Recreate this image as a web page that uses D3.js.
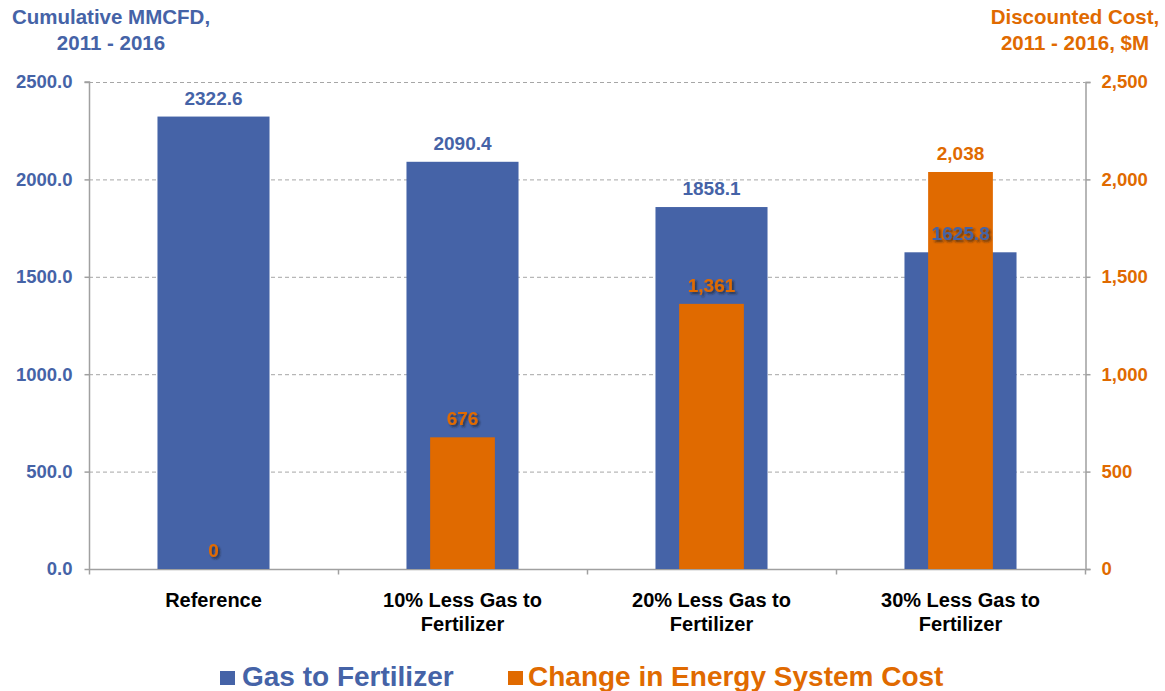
<!DOCTYPE html>
<html><head><meta charset="utf-8">
<script src="https://cdn.jsdelivr.net/npm/d3@7"></script>
<style>
html,body{margin:0;padding:0;background:#fff;}
svg{display:block;font-family:"Liberation Sans",Arial,sans-serif;font-weight:bold;}
</style></head>
<body>
<svg id="c" width="1165" height="691"></svg>
<script>
const categories = [["Reference"],["10% Less Gas to","Fertilizer"],["20% Less Gas to","Fertilizer"],["30% Less Gas to","Fertilizer"]];
const gasValues = [2322.6, 2090.4, 1858.1, 1625.8];
const costValues = [0, 676, 1361, 2038];
const leftTicks = [0, 500, 1000, 1500, 2000, 2500];
const rightTicks = [0, 500, 1000, 1500, 2000, 2500];
const seriesNames = ["Gas to Fertilizer", "Change in Energy System Cost"];
const leftTitle = ["Cumulative MMCFD,", "2011 - 2016"];
const rightTitle = ["Discounted Cost,", "2011 - 2016, $M"];

const BLUE = "#4563A7", ORANGE = "#E06A00", GRID = "#A6A6A6", AXIS = "#A0A0A0";
const svg = d3.select("#c");
const L = 89, R = 1085, T = 82, B = 569;

const defs = svg.append("defs");
const f = defs.append("filter").attr("id","sh").attr("x","-20%").attr("y","-30%").attr("width","150%").attr("height","180%");
f.append("feDropShadow").attr("dx",2).attr("dy",2).attr("stdDeviation",1.2).attr("flood-color","#1a1a1a").attr("flood-opacity",0.65);

const x = d3.scaleBand().domain(d3.range(categories.length)).range([L, R]).paddingInner(0).paddingOuter(0);
const yL = d3.scaleLinear().domain([0, 2500]).range([B, T]);
const yR = d3.scaleLinear().domain([0, 2500]).range([B, T]);

// gridlines
svg.append("g").selectAll("line").data(leftTicks.filter(d=>d>0)).join("line")
  .attr("x1", L).attr("x2", R).attr("y1", d=>yL(d)+0.5).attr("y2", d=>yL(d)+0.5)
  .attr("stroke", GRID).attr("stroke-width",1).attr("stroke-dasharray","4,3");

// left axis
const gL = svg.append("g").attr("transform",`translate(${L+0.5},0)`)
  .call(d3.axisLeft(yL).tickValues(leftTicks).tickFormat(d3.format(".1f")).tickSize(5).tickPadding(12));
gL.select(".domain").attr("stroke",AXIS).attr("stroke-width",1.5).attr("d",`M-5,${T}H0V${B}`);
gL.selectAll(".tick line").attr("stroke",AXIS).attr("stroke-width",1.5);
gL.selectAll(".tick text").attr("fill",BLUE).attr("font-size",18.5).attr("font-weight","bold").attr("font-family","Liberation Sans, Arial, sans-serif");

// right axis
const gR = svg.append("g").attr("transform",`translate(${R+0.5},0)`)
  .call(d3.axisRight(yR).tickValues(rightTicks).tickFormat(d3.format(",")).tickSize(5).tickPadding(11));
gR.select(".domain").attr("stroke",AXIS).attr("stroke-width",1.5);
gR.selectAll(".tick line").attr("stroke",AXIS).attr("stroke-width",1.5);
gR.selectAll(".tick text").attr("fill",ORANGE).attr("font-size",18.5).attr("font-weight","bold").attr("font-family","Liberation Sans, Arial, sans-serif");

// bottom axis
const gB = svg.append("g").attr("transform",`translate(0,${B+0.5})`);
gB.append("line").attr("x1",L).attr("x2",R).attr("stroke",AXIS).attr("stroke-width",1.5);
const bounds = d3.range(categories.length+1).map(i => i < categories.length ? x(i) : x(i-1)+x.bandwidth());
gB.selectAll("line.t").data(bounds).join("line").attr("class","t")
  .attr("x1",d=>d+0.5).attr("x2",d=>d+0.5).attr("y1",0).attr("y2",5).attr("stroke",AXIS).attr("stroke-width",1.5);

// category labels
const catG = svg.append("g");
categories.forEach((lines,i)=>{
  const t = catG.append("text").attr("text-anchor","middle").attr("font-size",20).attr("fill","#000");
  lines.forEach((ln,j)=>t.append("tspan").attr("x",x(i)+x.bandwidth()/2).attr("y",607+j*24).text(ln));
});

const bw = x.bandwidth();
const blueW = bw*0.45, orW = bw*0.26;
// blue bars
svg.append("g").selectAll("rect").data(gasValues).join("rect")
  .attr("x",(d,i)=>x(i)+bw/2-blueW/2).attr("width",blueW)
  .attr("y",d=>yL(d)).attr("height",d=>B-yL(d)).attr("fill",BLUE);
// orange bars
svg.append("g").selectAll("rect").data(costValues).join("rect")
  .attr("x",(d,i)=>x(i)+bw/2-orW/2).attr("width",orW)
  .attr("y",d=>yR(d)).attr("height",d=>B-yR(d)).attr("fill",ORANGE);

// labels
const fmtG = d3.format(".1f"), fmtC = d3.format(",");
gasValues.forEach((v,i)=>{
  const ty = yL(v)-12;
  const onBar = yR(costValues[i]) < ty - 6;
  svg.append("text").attr("x",x(i)+bw/2).attr("y",ty).attr("text-anchor","middle")
    .attr("font-size",19).attr("fill",BLUE).attr("filter",onBar?"url(#sh)":null).text(fmtG(v));
});
costValues.forEach((v,i)=>{
  const ty = yR(v)-12;
  const onBar = yL(gasValues[i]) < ty - 6;
  svg.append("text").attr("x",x(i)+bw/2).attr("y",ty).attr("text-anchor","middle")
    .attr("font-size",19).attr("fill",ORANGE).attr("filter",onBar?"url(#sh)":null).text(fmtC(v));
});

// titles
const lt = svg.append("text").attr("text-anchor","middle").attr("font-size",20.5).attr("fill",BLUE);
leftTitle.forEach((s,j)=>lt.append("tspan").attr("x",111).attr("y",24+j*26).text(s));
const rt = svg.append("text").attr("text-anchor","middle").attr("font-size",20.5).attr("fill",ORANGE);
rightTitle.forEach((s,j)=>rt.append("tspan").attr("x",1075).attr("y",24+j*26).text(s));

// legend
const leg = svg.append("g");
leg.append("rect").attr("x",220).attr("y",671).attr("width",15).attr("height",14).attr("fill",BLUE);
leg.append("text").attr("x",242).attr("y",686).attr("font-size",28).attr("fill",BLUE).text(seriesNames[0]);
leg.append("rect").attr("x",508).attr("y",671).attr("width",15).attr("height",14).attr("fill",ORANGE);
leg.append("text").attr("x",528).attr("y",686).attr("font-size",28).attr("fill",ORANGE).text(seriesNames[1]);
</script>
</body></html>
